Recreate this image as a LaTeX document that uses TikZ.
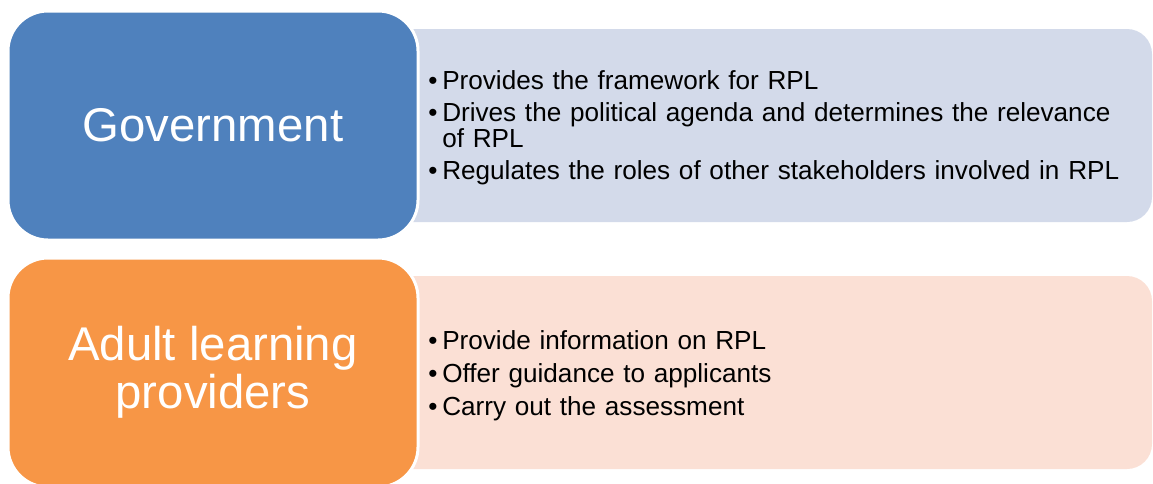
\documentclass[tikz,border=0pt]{standalone}
\usepackage{fontspec}
\setmainfont{Liberation Sans}

\definecolor{govblue}{HTML}{4F81BD}
\definecolor{govtint}{HTML}{D3DAEA}
\definecolor{provorange}{HTML}{F79646}
\definecolor{provtint}{HTML}{FBE0D5}

\newcommand{\roleitem}[1]{\par\hangindent=10.5pt\hangafter=1\noindent\makebox[10.5pt][l]{\textbullet}#1}

\begin{document}
\begin{tikzpicture}[x=0.75pt,y=-0.75pt]
  \tikzstyle{role}=[rounded corners=30pt,minimum width=307.5pt,minimum height=171.75pt,draw=white,line width=2.25pt,text=white,align=center,font=\fontsize{35.5}{36}\selectfont]
  \tikzstyle{duty}=[rounded corners=18.75pt,minimum width=579pt,minimum height=144.75pt]
  \tikzstyle{tasks}=[anchor=north west,inner sep=0pt,text width=545pt,align=left,font=\fontsize{19.6}{19.5}\selectfont]

  \useasboundingbox (0,0) rectangle (1153,483);

  \node[duty,fill=govtint]     at (766,125.5) (govduty)  {};
  \node[role,fill=govblue]     at (213,125.5) (gov)      {Government};
  \node[duty,fill=provtint]    at (766,372.5) (provduty) {};
  \node[role,fill=provorange]  at (213,372.5) (prov)     {Adult learning\\providers};

  \node[tasks] at (428,57.5) (govtasks) {\setlength{\parskip}{4.5pt}%
    \roleitem{Provides the framework for RPL}
    \roleitem{Drives the political agenda and determines the relevance\newline of RPL}
    \roleitem{Regulates the roles of other stakeholders involved in RPL}};
  \node[tasks] at (428,316) (provtasks) {\setlength{\parskip}{5.25pt}%
    \roleitem{Provide information on RPL}
    \roleitem{Offer guidance to applicants}
    \roleitem{Carry out the assessment}};
\end{tikzpicture}
\end{document}
